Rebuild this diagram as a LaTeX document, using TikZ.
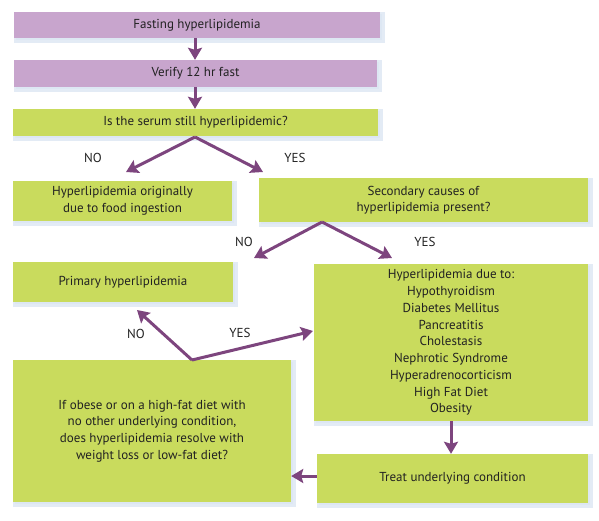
\documentclass[tikz,border=0pt]{standalone}
\usepackage{fontspec}
\setmainfont{PT Sans}
\usetikzlibrary{arrows.meta,shadows}
\definecolor{purp}{HTML}{C8A5CD}
\definecolor{lime}{HTML}{C9DB5D}
\definecolor{arr}{HTML}{7D457E}
\definecolor{glowc}{HTML}{DCE6F3}
\definecolor{txt}{HTML}{222222}
\tikzset{
  box/.style={rectangle, inner sep=0pt, align=center, text=txt, font=\fontsize{13}{16.6}\selectfont,
    drop shadow={shadow xshift=2pt, shadow yshift=-2pt, fill=glowc, draw=glowc, line width=5pt, opacity=0.8}},
  pbox/.style={box, fill=purp},
  gbox/.style={box, fill=lime},
  conn/.style={draw=arr, line width=3pt, -{Stealth[length=12pt,width=14pt,inset=2pt]}},
  lbl/.style={text=txt, font=\fontsize{13}{14}\selectfont, inner sep=0pt}
}
\begin{document}
\begin{tikzpicture}[x=1pt,y=-1pt]
\useasboundingbox (0,0) rectangle (599,520);
\node[pbox, minimum width=366pt, minimum height=26pt] (fast) at (197,25) {Fasting hyperlipidemia};
\node[pbox, minimum width=363pt, minimum height=27pt] (verify) at (195.5,73.5) {Verify 12 hr fast};
\node[gbox, minimum width=365pt, minimum height=27pt] (serum) at (195.5,122.5) {Is the serum still hyperlipidemic?};
\node[gbox, minimum width=219pt, minimum height=40pt] (food) at (122.5,201) {Hyperlipidemia originally\\due to food ingestion};
\node[gbox, minimum width=329pt, minimum height=44pt] (second) at (423.5,200) {Secondary causes of\\hyperlipidemia present?};
\node[gbox, minimum width=220pt, minimum height=40pt] (primary) at (123,282) {Primary hyperlipidemia};
\node[gbox, minimum width=274pt, minimum height=157pt, font=\fontsize{13}{16.75}\selectfont] (due) at (451,342.5) {Hyperlipidemia due to:\\Hypothyroidism\\Diabetes Mellitus\\Pancreatitis\\Cholestasis\\Nephrotic Syndrome\\Hyperadrenocorticism\\High Fat Diet\\Obesity};
\node[gbox, minimum width=278pt, minimum height=142pt] (obese) at (152,431) {If obese or on a high-fat diet with\\no other underlying condition,\\does hyperlipidemia resolve with\\weight loss or low-fat diet?};
\node[gbox, minimum width=271pt, minimum height=49pt] (treat) at (452.5,478.5) {Treat underlying condition};

\coordinate (a1) at (195,137);
\coordinate (t1n) at (126,172);
\coordinate (t1y) at (263,172);
\coordinate (a2) at (322,222);
\coordinate (t2n) at (254,258);
\coordinate (t2y) at (392,258);
\coordinate (a3) at (192,360);
\coordinate (t3n) at (137,310);
\coordinate (t3y) at (313,331);

\draw[conn] (fast.south -| 195,0) -- (verify.north -| 195,0);
\draw[conn] (verify.south -| 195,0) -- (serum.north -| 195,0);
\draw[conn] (a1) -- (t1n);
\draw[conn] (a1) -- (t1y);
\draw[conn] (a2) -- (t2n);
\draw[conn] (a2) -- (t2y);
\draw[conn] (a3) -- (t3n);
\draw[conn] (a3) -- (t3y);
\draw[conn] (due.south -| 451,0) -- (treat.north -| 451,0);
\draw[conn] (treat.west |- 0,476) -- (obese.east |- 0,476);

\node[lbl] (n1) at (93,158) {NO};
\node[lbl] (y1) at (295,158) {YES};
\node[lbl] (n2) at (244,242) {NO};
\node[lbl] (y2) at (425,242) {YES};
\node[lbl] (n3) at (136,334) {NO};
\node[lbl] (y3) at (240,333) {YES};
\end{tikzpicture}
\end{document}
